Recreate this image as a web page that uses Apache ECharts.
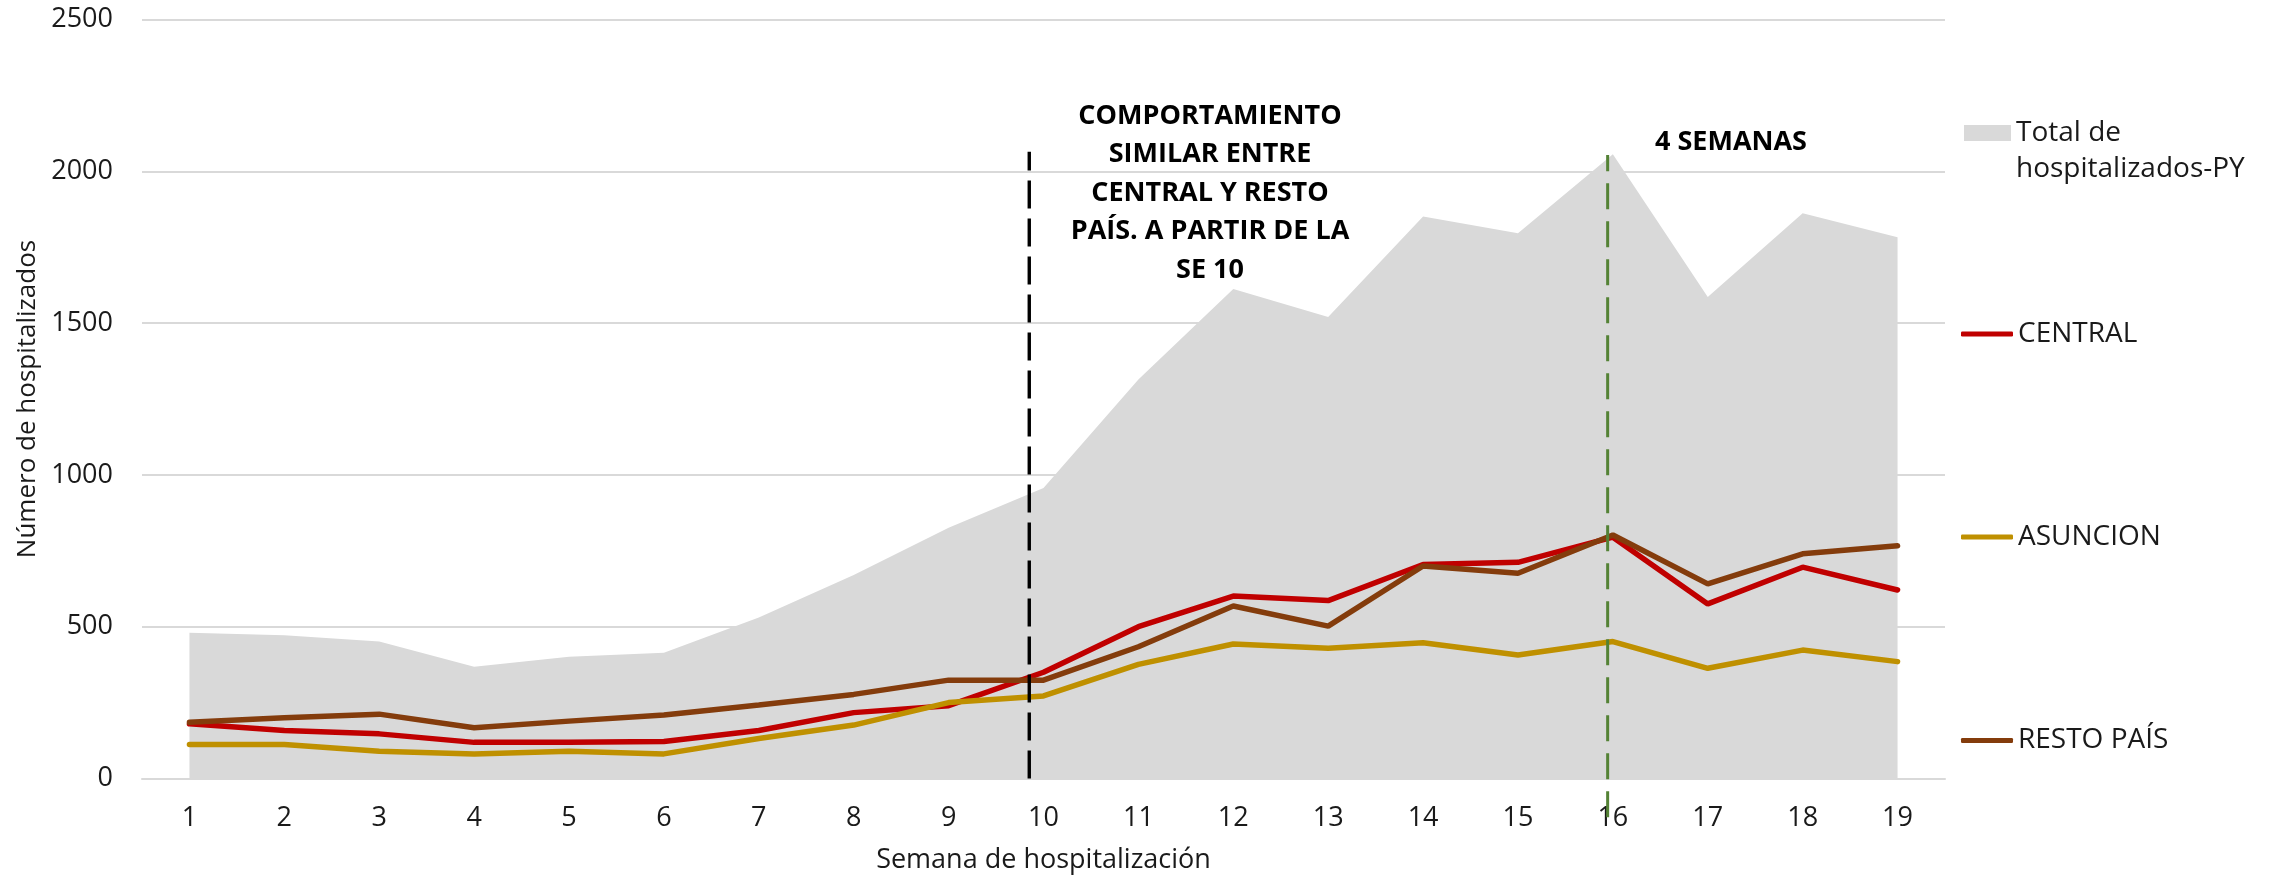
<!DOCTYPE html>
<html>
<head>
<meta charset="utf-8">
<script src="https://cdn.jsdelivr.net/npm/echarts@6/dist/echarts.min.js"></script>
<style>
  html, body { margin: 0; padding: 0; background: #fff; }
  #chart { width: 2275px; height: 875px; }
</style>
</head>
<body>
<div id="chart"></div>
<script>
const semanas = ['1', '2', '3', '4', '5', '6', '7', '8', '9', '10', '11', '12', '13', '14', '15', '16', '17', '18', '19'];
const totalPY = [480, 472, 451, 368, 401, 414, 530, 670, 826, 957, 1314, 1612, 1520, 1851, 1796, 2056, 1586, 1862, 1783];
const central = [180, 158, 147, 119, 119, 122, 158, 217, 240, 350, 500, 601, 586, 705, 712, 795, 575, 696, 621];
const asuncion = [112, 112, 90, 81, 90, 81, 132, 176, 250, 272, 376, 443, 429, 447, 407, 451, 363, 423, 385];
const restoPais = [185, 200, 212, 167, 189, 209, 242, 277, 324, 324, 434, 568, 502, 700, 676, 802, 641, 740, 767];

// vertical reference lines (x in week units, y in hospitalizados)
const lineaSE10 = [[9.85, 0], [9.85, 2064]];
const lineaSE16 = [[15.945, -128], [15.945, 2054]];

const FONT = 'Open Sans';
const TXT = '#1a1a1a';

const chart = echarts.init(document.getElementById('chart'));

const legendBase = {
  orient: 'vertical',
  left: 1956,
  itemWidth: 52,
  itemHeight: 5,
  icon: 'roundRect',
  selectedMode: false,
  textStyle: { fontFamily: FONT, fontSize: 28, color: TXT, lineHeight: 32 }
};

chart.setOption({
  animation: false,
  grid: { left: 142, right: 330, top: 19.5, bottom: 96.5, outerBoundsMode: 'none' },
  legend: [
    Object.assign({}, legendBase, {
      top: 74,
      left: 1959,
      itemWidth: 47,
      itemHeight: 16,
      icon: 'rect',
      data: ['Total de hospitalizados-PY'],
      formatter: () => '\nTotal de\nhospitalizados-PY',
      textStyle: Object.assign({}, legendBase.textStyle, { lineHeight: 36 })
    }),
    Object.assign({}, legendBase, { top: 313, data: ['CENTRAL'] }),
    Object.assign({}, legendBase, { top: 516, data: ['ASUNCION'] }),
    Object.assign({}, legendBase, { top: 719.5, data: ['RESTO PAÍS'] })
  ],
  xAxis: [
    {
      type: 'category',
      data: semanas,
      boundaryGap: true,
      name: 'Semana de hospitalización',
      nameLocation: 'middle',
      nameGap: 68,
      nameTextStyle: { fontFamily: FONT, fontSize: 27, color: TXT },
      axisLine: { lineStyle: { color: '#d9d9d9', width: 2 } },
      axisTick: { show: false },
      axisLabel: { fontFamily: FONT, fontSize: 27, color: TXT, margin: 26 }
    },
    { type: 'value', min: 0.5, max: 19.5, show: false }
  ],
  yAxis: {
    type: 'value',
    min: 0,
    max: 2500,
    interval: 500,
    name: 'Número de hospitalizados',
    nameLocation: 'middle',
    nameGap: 93,
    nameTextStyle: { fontFamily: FONT, fontSize: 26, color: TXT },
    axisLine: { show: false },
    axisTick: { show: false },
    axisLabel: { fontFamily: FONT, fontSize: 27, color: TXT, margin: 29, formatter: v => String(v) },
    splitLine: { lineStyle: { color: '#d9d9d9', width: 2 } }
  },
  graphic: [
    {
      type: 'text',
      x: 1210,
      y: 97,
      style: {
        text: 'COMPORTAMIENTO\nSIMILAR ENTRE\nCENTRAL Y RESTO\nPAÍS. A PARTIR DE LA\nSE 10',
        fontFamily: FONT, fontSize: 27, fontWeight: 'bold', fill: '#000',
        lineHeight: 38.5, align: 'center', verticalAlign: 'top'
      }
    },
    {
      type: 'text',
      x: 1731,
      y: 142,
      style: {
        text: '4 SEMANAS',
        fontFamily: FONT, fontSize: 27, fontWeight: 'bold', fill: '#000',
        align: 'center', verticalAlign: 'middle'
      }
    }
  ],
  series: [
    {
      name: 'Total de hospitalizados-PY',
      type: 'line',
      data: totalPY,
      symbol: 'none',
      color: '#d9d9d9',
      lineStyle: { width: 0 },
      areaStyle: { color: '#d9d9d9', opacity: 1 },
      z: 1
    },
    {
      name: 'CENTRAL',
      type: 'line',
      data: central,
      symbol: 'none',
      color: '#c00000',
      lineStyle: { width: 5.5, color: '#c00000', cap: 'round' },
      z: 3
    },
    {
      name: 'ASUNCION',
      type: 'line',
      data: asuncion,
      symbol: 'none',
      color: '#bf9000',
      lineStyle: { width: 5.5, color: '#bf9000', cap: 'round' },
      z: 3
    },
    {
      name: 'RESTO PAÍS',
      type: 'line',
      data: restoPais,
      symbol: 'none',
      color: '#843c0c',
      lineStyle: { width: 5.5, color: '#843c0c', cap: 'round' },
      z: 3
    },
    {
      type: 'line',
      xAxisIndex: 1,
      data: lineaSE10,
      symbol: 'none',
      clip: false,
      silent: true,
      lineStyle: { color: '#000', width: 3.4, type: [28, 10] },
      z: 4
    },
    {
      type: 'line',
      xAxisIndex: 1,
      data: lineaSE16,
      symbol: 'none',
      clip: false,
      silent: true,
      lineStyle: { color: '#548235', width: 3, type: [26, 12] },
      z: 4
    }
  ]
});
</script>
</body>
</html>
